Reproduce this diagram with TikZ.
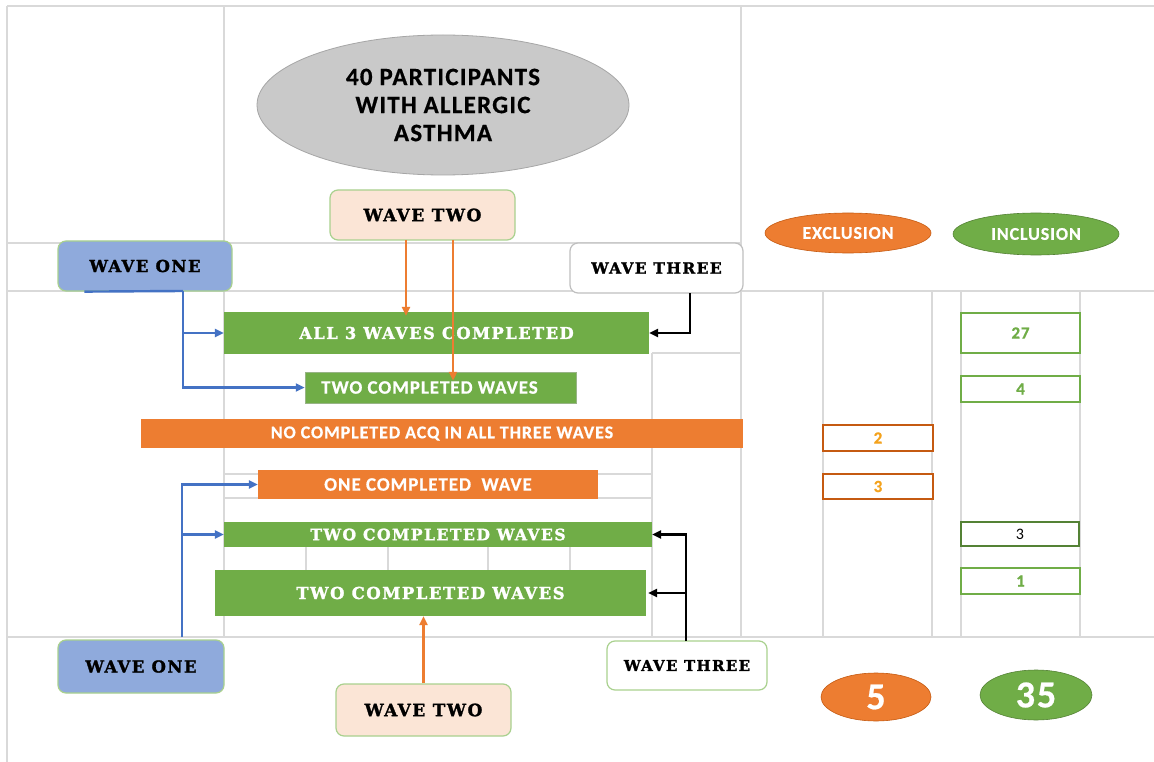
\documentclass[tikz,border=0pt]{standalone}
\usepackage{fontspec}
\setmainfont{Carlito}
\newfontfamily\wf[LetterSpace=9, FakeBold=1.6]{DejaVu Serif Bold}
\newfontfamily\sfw[LetterSpace=5, FakeBold=0.6]{Carlito Bold}
\usetikzlibrary{shapes.geometric,arrows.meta,calc}
\definecolor{cgreen}{HTML}{70AD47}
\definecolor{corange}{HTML}{ED7D31}
\definecolor{cblue}{HTML}{8FAADC}
\definecolor{cpeach}{HTML}{FBE5D6}
\definecolor{lgreen}{HTML}{A9D18E}
\definecolor{cgray}{HTML}{C9C9C9}
\definecolor{cgrayb}{HTML}{A6A6A6}
\definecolor{dorange}{HTML}{C55A11}
\definecolor{dgreen}{HTML}{548235}
\definecolor{amber}{HTML}{F4A21C}
\definecolor{ablue}{HTML}{4472C4}
\definecolor{gridc}{HTML}{D9D9D9}
\definecolor{wborder}{HTML}{BFBFBF}
\begin{document}
\begin{tikzpicture}[x=1pt,y=-1pt,
  gridln/.style={draw=gridc, line width=1.3pt},
  wavebox/.style={rectangle, rounded corners=8pt, draw=lgreen, line width=1.2pt, inner sep=0pt,
     font=\wf\fontsize{16.5}{18}\selectfont},
  bar/.style={rectangle, inner sep=0pt, text=white, draw=none},
  serifbar/.style={bar, fill=cgreen, font=\wf\fontsize{16.3}{18}\selectfont},
  sansbar/.style={bar, font=\sfw\fontsize{19}{22}\selectfont},
  numbox/.style={rectangle, inner sep=0pt, fill=white, line width=2.5pt, font=\sfw\fontsize{17}{19}\selectfont},
  oval/.style={ellipse, inner sep=0pt, text=white, font=\sfw\fontsize{18}{20}\selectfont},
  bigoval/.style={ellipse, inner sep=0pt, text=white, font=\sfw\fontsize{38}{40}\selectfont},
  tip/.style={-{Triangle[length=9pt,width=8pt]}},
  barrow/.style={tip, draw=ablue, line width=2.4pt},
  oarrow/.style={tip, draw=corange, line width=2.4pt},
  karrow/.style={tip, draw=black, line width=2.4pt}
]
\useasboundingbox (0,0) rectangle (1154,762);
\fill[white] (0,0) rectangle (1154,762);
% spreadsheet grid
\draw[gridln] (7,6) -- (1154,6);
\draw[gridln] (7,243) -- (741,243);
\draw[gridln] (7,291) -- (1154,291);
\draw[gridln] (7,637) -- (1154,637);
\draw[gridln] (652,353) -- (741,353);
\draw[gridln] (224,474) -- (652,474);
\draw[gridln] (224,498) -- (652,498);
\draw[gridln] (7,6) -- (7,762);
\draw[gridln] (224,6) -- (224,637);
\draw[gridln] (741,6) -- (741,637);
\draw[gridln] (652,353) -- (652,637);
\draw[gridln] (823,291) -- (823,637);
\draw[gridln] (932,291) -- (932,637);
\draw[gridln] (961,291) -- (961,637);
\draw[gridln] (1080,291) -- (1080,637);
\foreach \gx in {306,388,488,570} \draw[gridln] (\gx,547) -- (\gx,570);

% main nodes
\node[ellipse, fill=cgray, draw=cgrayb, line width=0.8pt, minimum width=372pt, minimum height=140pt,
      align=center, font=\sfw\fontsize{25}{28}\selectfont] (ell) at (443,105)
      {40 PARTICIPANTS\\WITH ALLERGIC\\ASTHMA};
\node[wavebox, fill=cpeach, minimum width=185pt, minimum height=50pt, font=\wf\fontsize{17}{19}\selectfont] (w2t) at (422.5,215) {WAVE TWO};
\node[wavebox, fill=cblue, minimum width=174pt, minimum height=50pt] (w1t) at (145,266) {WAVE ONE};
\node[wavebox, fill=white, draw=wborder, minimum width=173pt, minimum height=50pt, font=\wf\fontsize{15.5}{17}\selectfont] (w3t) at (656.5,268) {WAVE THREE};
\node[oval, fill=corange, draw=dorange, line width=0.6pt, minimum width=166pt, minimum height=40pt] (excl) at (848,233) {EXCLUSION};
\node[oval, fill=cgreen, draw=dgreen, line width=0.6pt, minimum width=166pt, minimum height=42pt] (incl) at (1036,234) {INCLUSION};

\node[serifbar, minimum width=425pt, minimum height=42pt] (all3) at (436.5,333) {ALL 3 WAVES COMPLETED};
\node[sansbar, fill=cgreen, draw=dgreen!60, line width=0.5pt, minimum width=271pt, minimum height=31pt] (tcw1) at (440.5,387.5) {\hspace*{-22pt}TWO COMPLETED WAVES};
\node[sansbar, fill=corange, minimum width=602pt, minimum height=29pt, font=\sfw\fontsize{18}{20}\selectfont] (noc) at (442,433.5) {NO COMPLETED ACQ IN ALL THREE WAVES};
\node[sansbar, fill=corange, minimum width=340pt, minimum height=29pt] (one) at (428,484.5) {ONE COMPLETED\ \ WAVE};
\node[serifbar, minimum width=428pt, minimum height=25pt, font=\wf\fontsize{15.7}{17}\selectfont] (tcw2) at (438,534.5) {TWO COMPLETED WAVES};
\node[serifbar, minimum width=431pt, minimum height=46pt, font=\wf\fontsize{16.5}{18}\selectfont] (tcw3) at (430.5,593) {TWO COMPLETED WAVES};

\node[wavebox, fill=cblue, minimum width=166pt, minimum height=53pt] (w1b) at (141,666.5) {WAVE ONE};
\node[wavebox, fill=cpeach, minimum width=175pt, minimum height=52pt, font=\wf\fontsize{17}{19}\selectfont] (w2b) at (423.5,710) {WAVE TWO};
\node[wavebox, fill=white, minimum width=160pt, minimum height=49pt, font=\wf\fontsize{15}{17}\selectfont] (w3b) at (687,665.5) {WAVE THREE};

% count boxes
\node[numbox, draw=cgreen, text=cgreen, minimum width=119pt, minimum height=40pt] (n27) at (1020.5,333) {27};
\node[numbox, draw=cgreen, text=cgreen, minimum width=119pt, minimum height=26pt] (n4) at (1020.5,389) {4};
\node[numbox, draw=dorange, text=amber, minimum width=110pt, minimum height=26pt] (n2) at (878,438) {2};
\node[numbox, draw=dorange, text=amber, minimum width=110pt, minimum height=25pt] (n3e) at (878,486.5) {3};
\node[numbox, draw=dgreen, line width=1.8pt, text=black, font=\fontsize{16}{18}\selectfont, minimum width=118pt, minimum height=24pt] (n3i) at (1020,534) {3};
\node[numbox, draw=cgreen, text=cgreen, minimum width=119pt, minimum height=26pt] (n1) at (1020.5,581) {1};
\node[bigoval, fill=corange, draw=dorange, line width=0.6pt, minimum width=110pt, minimum height=48pt] (n5) at (876,697) {5};
\node[bigoval, fill=cgreen, draw=dgreen, line width=0.6pt, minimum width=112pt, minimum height=50pt] (n35) at (1036,695) {35};

% connectors: top wave one
\coordinate (j1) at (183,291);
\draw[ablue, line width=2.4pt] ($(w1t.south west)+(27,0)$) -- (j1);
\draw[barrow] (j1) |- (tcw1.west);
\draw[barrow] (all3.west -| j1) -- (all3.west);
% top wave two
\coordinate (o1) at (406,240);
\coordinate (o2) at (453,240);
\draw[oarrow] (o1) -- ($(o1 |- all3.north)+(0,4)$);
\draw[oarrow] (o2) -- ($(o2 |- tcw1.north)+(0,9)$);
% top wave three
\coordinate (k1) at (690,293);
\draw[karrow] (k1) |- (all3.east);
% bottom wave one
\coordinate (j2) at (182,637);
\draw[barrow] (j2) |- (one.west);
\draw[barrow] (tcw2.west -| j2) -- (tcw2.west);
% bottom wave two
\draw[oarrow] (w2b.north) -- (w2b.north |- tcw3.south);
% bottom wave three
\coordinate (k2) at (686,641);
\draw[karrow] (k2) |- (tcw2.east);
\draw[karrow] (tcw3.east -| k2) -- ($(tcw3.east)+(2,0)$);
\end{tikzpicture}
\end{document}
